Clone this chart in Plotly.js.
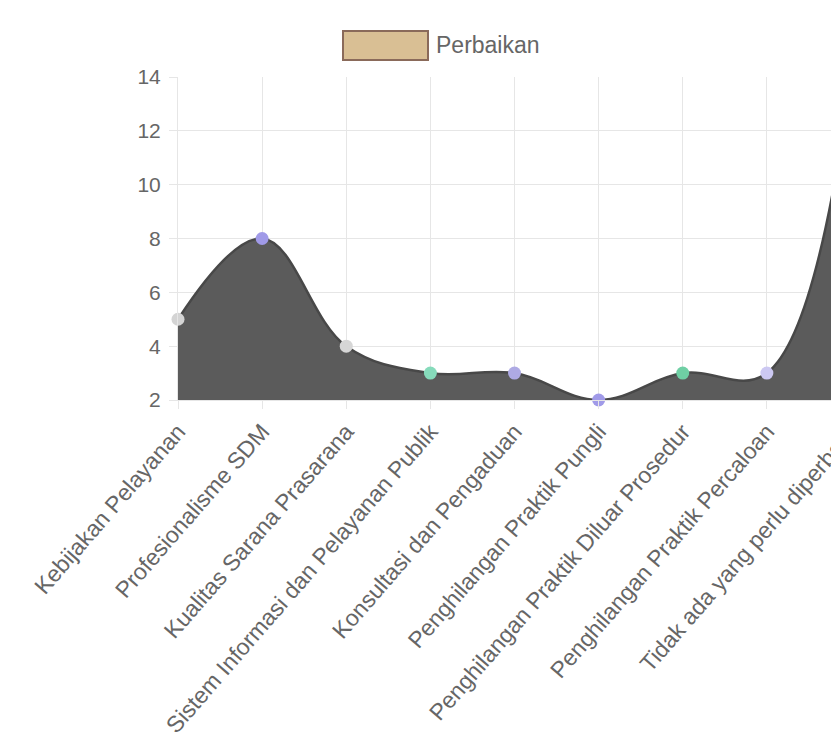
<!DOCTYPE html>
<html>
<head>
<meta charset="utf-8">
<script src="https://cdn.plot.ly/plotly-3.0.1.min.js"></script>
<style>
  html, body { margin: 0; padding: 0; background: #fff; overflow: hidden; }
  #chart { width: 890px; height: 750px; }
</style>
</head>
<body>
<div id="chart"></div>
<script>
// ---- Data ----
const categories = [
  "Kebijakan Pelayanan",
  "Profesionalisme SDM",
  "Kualitas Sarana Prasarana",
  "Sistem Informasi dan Pelayanan Publik",
  "Konsultasi dan Pengaduan",
  "Penghilangan Praktik Pungli",
  "Penghilangan Praktik Diluar Prosedur",
  "Penghilangan Praktik Percaloan",
  "Tidak ada yang perlu diperbaiki"
];
const seriesName = "Perbaikan";
const perbaikan = [5, 8, 4, 3, 3, 2, 3, 3, 14];
const pointColors = ["#d4d4d4", "#a09ae8", "#d6d6d6", "#86dbbb", "#aeaae4", "#a09ae8", "#6fcfa4", "#ccc8f2", "#d4d4d4"];
const yTicks = [2, 4, 6, 8, 10, 12, 14];

const idx = categories.map((_, i) => i);
const font = "Liberation Sans, Arial, Helvetica, sans-serif";
const textColor = "#666666";
const gridColor = "#e6e6e6";

const trace = {
  x: idx,
  y: perbaikan,
  type: "scatter",
  mode: "lines+markers",
  name: seriesName,
  showlegend: false,
  line: { shape: "spline", smoothing: 1.1, color: "#484848", width: 2.5 },
  fill: "tozeroy",
  fillcolor: "#5b5b5b",
  marker: { size: 13, color: pointColors, line: { width: 0 } },
  cliponaxis: false,
  hoverinfo: "x+y"
};

const layout = {
  width: 890,
  height: 750,
  margin: { l: 178, r: 39, t: 77, b: 350 },
  paper_bgcolor: "#ffffff",
  plot_bgcolor: "#ffffff",
  font: { family: font, size: 20, color: textColor },
  showlegend: false,
  xaxis: {
    range: [0, categories.length - 1],
    tickmode: "array",
    tickvals: idx,
    ticktext: categories,
    tickangle: -49,
    tickfont: { family: font, size: 23, color: textColor },
    showgrid: true,
    gridcolor: gridColor,
    gridwidth: 1,
    ticks: "outside",
    ticklen: 8,
    tickcolor: gridColor,
    showline: true,
    linecolor: gridColor,
    zeroline: false,
    fixedrange: true
  },
  yaxis: {
    range: [2, 14],
    tickmode: "array",
    tickvals: yTicks,
    ticktext: yTicks.map(String),
    tickfont: { family: font, size: 21, color: textColor },
    ticklabelstandoff: 4,
    showgrid: true,
    gridcolor: gridColor,
    gridwidth: 1,
    ticks: "outside",
    ticklen: 8,
    tickcolor: gridColor,
    showline: true,
    linecolor: gridColor,
    zeroline: false,
    fixedrange: true
  },
  shapes: [
    {
      type: "rect", xref: "paper", yref: "paper",
      x0: (343 - 178) / 673, x1: (428 - 178) / 673,
      y0: (400 - 60) / 323, y1: (400 - 31) / 323,
      fillcolor: "#d9bf94",
      line: { color: "#8a6a5a", width: 2 }
    }
  ],
  annotations: [
    {
      xref: "paper", yref: "paper",
      x: (434 - 178) / 673, y: (400 - 45) / 323,
      xanchor: "left", yanchor: "middle",
      text: seriesName, showarrow: false,
      font: { family: font, size: 23, color: textColor }
    }
  ]
};

Plotly.newPlot("chart", [trace], layout, { displayModeBar: false, staticPlot: true });
</script>
</body>
</html>
